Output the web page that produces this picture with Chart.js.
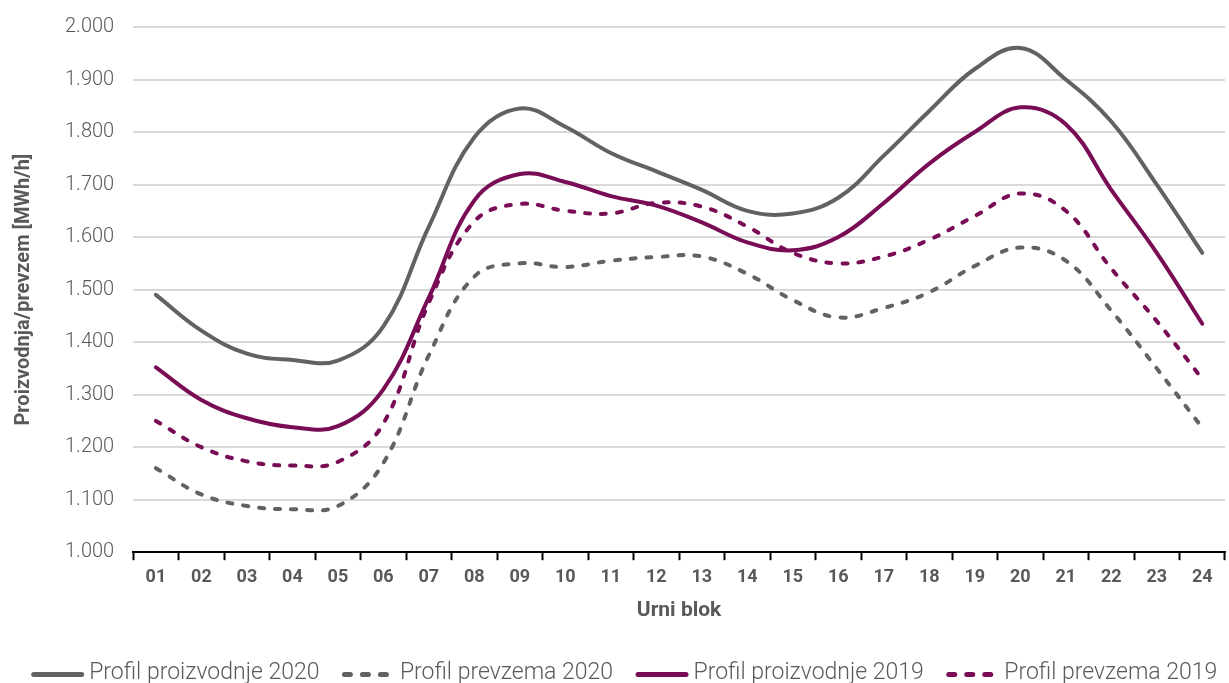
<!DOCTYPE html>
<html>
<head>
<meta charset="utf-8">
<script src="https://cdn.jsdelivr.net/npm/chart.js@4.4.1/dist/chart.umd.min.js"></script>
<style>
  html, body { margin: 0; padding: 0; background: #ffffff; }
  #wrap { width: 1229px; height: 683px; position: relative; }
</style>
</head>
<body>
<div id="wrap"><canvas id="chart" width="1229" height="683"></canvas></div>
<script>
// Hourly blocks 01..24
const hours = ['01','02','03','04','05','06','07','08','09','10','11','12',
               '13','14','15','16','17','18','19','20','21','22','23','24'];

// Average hourly profiles [MWh/h]
const proizvodnja2020 = [1490,1422,1378,1366,1365,1430,1620,1790,1845,1810,1760,1725,
                         1690,1650,1645,1675,1755,1840,1920,1960,1900,1820,1700,1570];
const prevzem2020     = [1160,1110,1088,1082,1088,1170,1375,1525,1550,1543,1555,1562,
                         1563,1530,1480,1447,1465,1495,1545,1580,1555,1460,1350,1237];
const proizvodnja2019 = [1352,1290,1255,1238,1240,1310,1485,1670,1720,1705,1678,1660,
                         1628,1590,1575,1600,1665,1740,1800,1847,1815,1690,1570,1435];
const prevzem2019     = [1250,1200,1173,1165,1172,1245,1475,1630,1663,1650,1645,1665,
                         1658,1620,1570,1550,1563,1595,1640,1683,1650,1540,1440,1330];

const seriesNames = ['Profil proizvodnje 2020','Profil prevzema 2020',
                     'Profil proizvodnje 2019','Profil prevzema 2019'];

const GRAY = '#626262';
const PURPLE = '#780c55';
const TEXT = '#595959';
const FONT = 'Roboto';
const DASH = [5, 11];

function line(label, data, color, dash) {
  return {
    label, data,
    borderColor: color,
    backgroundColor: color,
    borderWidth: 4,
    borderDash: dash,
    borderCapStyle: 'round',
    borderJoinStyle: 'round',
    pointRadius: 0,
    pointHoverRadius: 0,
    tension: 0.4,
    fill: false
  };
}

// Legend box geometry: the sample line sits in the right part of each box
const LEGEND_FONT = 23;
const LEGEND_BOX = 62;

// Draws line samples (solid / dashed) in place of the default legend boxes
const legendLines = {
  id: 'legendLines',
  afterDraw(chart) {
    const lg = chart.legend;
    if (!lg || !lg.legendHitBoxes) return;
    const ctx = chart.ctx;
    lg.legendHitBoxes.forEach((hb, i) => {
      const ds = chart.data.datasets[i];
      const textX = hb.left + LEGEND_BOX + LEGEND_FONT / 2;
      const y = hb.top + hb.height / 2 + 1;
      ctx.save();
      ctx.strokeStyle = ds.borderColor;
      ctx.lineWidth = 5;
      ctx.lineCap = 'round';
      ctx.setLineDash(ds.borderDash.length ? [6, 12] : []);
      ctx.beginPath();
      ctx.moveTo(textX - 55.5, y);
      ctx.lineTo(textX - 7.5, y);
      ctx.stroke();
      ctx.restore();
    });
  }
};

new Chart(document.getElementById('chart'), {
  type: 'line',
  data: {
    labels: hours,
    datasets: [
      line(seriesNames[0], proizvodnja2020, GRAY, []),
      line(seriesNames[1], prevzem2020, GRAY, DASH),
      line(seriesNames[2], proizvodnja2019, PURPLE, []),
      line(seriesNames[3], prevzem2019, PURPLE, DASH)
    ]
  },
  options: {
    responsive: false,
    animation: false,
    layout: { padding: { left: 8, right: 4, top: 0, bottom: -12 } },
    plugins: {
      tooltip: { enabled: false },
      legend: {
        position: 'bottom',
        labels: {
          boxWidth: LEGEND_BOX,
          boxHeight: 4,
          padding: 7,
          color: TEXT,
          font: { family: FONT, size: LEGEND_FONT, weight: '300' },
          generateLabels(chart) {
            return chart.data.datasets.map((ds, i) => ({
              text: ds.label,
              fillStyle: 'rgba(0,0,0,0)',
              strokeStyle: 'rgba(0,0,0,0)',
              lineWidth: 0,
              fontColor: TEXT,
              datasetIndex: i
            }));
          }
        }
      }
    },
    scales: {
      x: {
        offset: true,
        grid: {
          offset: true,
          drawOnChartArea: false,
          drawTicks: true,
          tickLength: 8,
          tickWidth: 2,
          tickColor: '#000000'
        },
        border: { display: true, color: '#000000', width: 2 },
        ticks: {
          color: TEXT,
          padding: 6,
          font: { family: FONT, size: 18, weight: 'bold' }
        },
        title: {
          display: true,
          text: 'Urni blok',
          color: TEXT,
          padding: { top: 4, bottom: 32 },
          font: { family: FONT, size: 21, weight: 'bold' }
        }
      },
      y: {
        min: 1000,
        max: 2000,
        ticks: {
          stepSize: 100,
          color: TEXT,
          padding: 19,
          font: { family: FONT, size: 20, weight: '300', lineHeight: 0.8 },
          callback: v => String(v).replace(/^(\d)(\d{3})$/, '$1.$2')
        },
        grid: { color: '#d9d9d9', lineWidth: 2, drawTicks: false },
        border: { display: false },
        title: {
          display: true,
          text: 'Proizvodnja/prevzem [MWh/h]',
          color: TEXT,
          padding: { top: 4, bottom: 10 },
          font: { family: FONT, size: 20, weight: 'bold' }
        }
      }
    }
  },
  plugins: [legendLines]
});
</script>
</body>
</html>
